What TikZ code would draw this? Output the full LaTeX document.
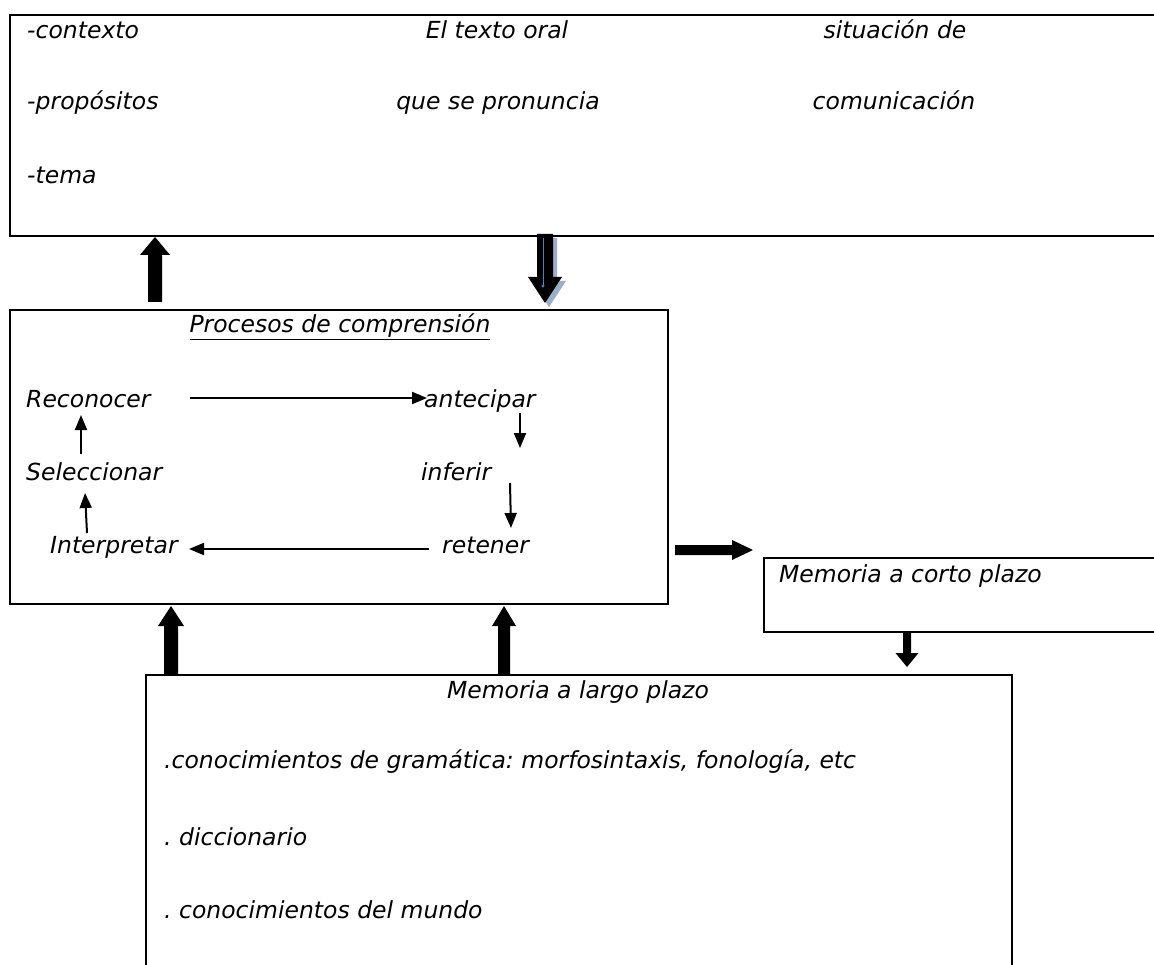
\documentclass[tikz,border=0pt]{standalone}
\usepackage{fontspec}
\setmainfont{DejaVu Sans}
\usetikzlibrary{arrows.meta,calc}
\definecolor{shadowblue}{HTML}{9AAFC9}
\definecolor{lineblue}{HTML}{4F81BD}
\frenchspacing
\begin{document}
\begin{tikzpicture}[x=1pt,y=-1pt,
  box/.style={draw=black, line width=2.6pt, inner sep=0pt},
  txt/.style={font=\itshape\fontsize{23.5}{28}\selectfont, inner sep=0pt},
  arr/.style={line width=2pt, -{Triangle[length=15pt 0 0,width=12pt 0 0]}},
  blk/.style={fill=black}]
\useasboundingbox (0,0) rectangle (1154,965);
\clip (0,0) rectangle (1154,965);
\fill[white] (0,0) rectangle (1154,965);
% boxes
\node[box, minimum width=1160pt, minimum height=221pt] (topbox) at (590,125.5) {};
\node[box, minimum width=658pt, minimum height=294pt] (procbox) at (339,457) {};
\node[box, minimum width=406pt, minimum height=74pt] (corto) at (967,595) {};
\node[box, minimum width=866pt, minimum height=305pt] (largo) at (579,827.5) {};
% top box texts
\node[txt, anchor=base west] (ctx) at (27,39) {-contexto};
\node[txt, anchor=base west] (prop) at (27,110) {-propósitos};
\node[txt, anchor=base west] (tema) at (27,184) {-tema};
\node[txt, anchor=base] (oral) at (497,39) {El texto oral};
\node[txt, anchor=base] (pron) at (498,110) {que se pronuncia};
\node[txt, anchor=base] (sit) at (895,39) {situación de};
\node[txt, anchor=base] (com) at (894,110) {comunicación};
% process texts
\node[txt, anchor=base] (title) at (340,333) {\underline{Procesos de comprensión}};
\node[txt, anchor=base west] (rec) at (26,407) {Reconocer};
\node[txt, anchor=base west] (ant) at (424,407) {antecipar};
\node[txt, anchor=base west] (sel) at (26,480) {Seleccionar};
\node[txt, anchor=base west] (inf) at (421,480) {inferir};
\node[txt, anchor=base west] (int) at (50,553) {Interpretar};
\node[txt, anchor=base west] (ret) at (442,553) {retener};
% memory texts
\node[txt, anchor=base west] (mcp) at (779,582) {Memoria a corto plazo};
\node[txt, anchor=base] (mlp) at (578,698) {Memoria a largo plazo};
\node[txt, anchor=base west] (gram) at (164,768) {.conocimientos de gramática: morfosintaxis, fonología, etc};
\node[txt, anchor=base west] (dic) at (164,845) {. diccionario};
\node[txt, anchor=base west] (mun) at (164,918) {. conocimientos del mundo};
% thin arrows
\coordinate (r1) at (190,398); \coordinate (a1) at (427,398);
\coordinate (a2) at (520,413); \coordinate (i2) at (520,448);
\coordinate (i3) at (510,483); \coordinate (r3) at (511,528);
\coordinate (r4) at (429,549); \coordinate (n4) at (189,549);
\coordinate (n5) at (87,533); \coordinate (s5) at (85,493);
\coordinate (s6) at (81,454); \coordinate (c6) at (81,415);
\draw[arr] (r1) -- (a1);
\draw[arr] (a2) -- (i2);
\draw[arr] (i3) -- (r3);
\draw[arr] (r4) -- (n4);
\draw[arr] (n5) -- (s5);
\draw[arr] (s6) -- (c6);
% block arrows
\coordinate (As) at (155,302); \coordinate (Ae) at (155,237);
\fill[blk] ($(As)+(-7,0)$) -- ($(Ae)+(-7,18)$) -- ($(Ae)+(-15,18)$) -- (Ae) -- ($(Ae)+(15,18)$) -- ($(Ae)+(7,18)$) -- ($(As)+(7,0)$) -- cycle;
\coordinate (Bs) at (545,234); \coordinate (Be) at (545,303);
\coordinate (Bs2) at (549,238); \coordinate (Be2) at (549,307);
\fill[shadowblue] ($(Bs2)+(-8,0)$) -- ($(Be2)+(-8,-26)$) -- ($(Be2)+(-17,-26)$) -- (Be2) -- ($(Be2)+(17,-26)$) -- ($(Be2)+(8,-26)$) -- ($(Bs2)+(8,0)$) -- cycle;
\fill[blk] ($(Bs)+(-8,0)$) -- ($(Be)+(-8,-26)$) -- ($(Be)+(-17,-26)$) -- (Be) -- ($(Be)+(17,-26)$) -- ($(Be)+(8,-26)$) -- ($(Bs)+(8,0)$) -- cycle;
\coordinate (bl1) at (543,238); \coordinate (bl2) at (543,288);
\draw[lineblue, line width=0.8pt, -{Triangle[length=3pt 0 0,width=3pt 0 0]}] (bl1) -- (bl2);
\coordinate (Cs) at (675,550); \coordinate (Ce) at (753,550);
\fill[blk] ($(Cs)+(0,-5)$) -- ($(Ce)+(-21,-5)$) -- ($(Ce)+(-21,-10)$) -- (Ce) -- ($(Ce)+(-21,10)$) -- ($(Ce)+(-21,5)$) -- ($(Cs)+(0,5)$) -- cycle;
\coordinate (Ds) at (907,632); \coordinate (De) at (907,667);
\fill[blk] ($(Ds)+(-4,0)$) -- ($(De)+(-4,-14)$) -- ($(De)+(-11.5,-14)$) -- (De) -- ($(De)+(11.5,-14)$) -- ($(De)+(4,-14)$) -- ($(Ds)+(4,0)$) -- cycle;
\coordinate (Es) at (171,675); \coordinate (Ee) at (171,606);
\fill[blk] ($(Es)+(-7,0)$) -- ($(Ee)+(-7,20)$) -- ($(Ee)+(-13,20)$) -- (Ee) -- ($(Ee)+(13,20)$) -- ($(Ee)+(7,20)$) -- ($(Es)+(7,0)$) -- cycle;
\coordinate (Fs) at (504,675); \coordinate (Fe) at (504,606);
\fill[blk] ($(Fs)+(-6,0)$) -- ($(Fe)+(-6,20)$) -- ($(Fe)+(-12,20)$) -- (Fe) -- ($(Fe)+(12,20)$) -- ($(Fe)+(6,20)$) -- ($(Fs)+(6,0)$) -- cycle;
\end{tikzpicture}
\end{document}
